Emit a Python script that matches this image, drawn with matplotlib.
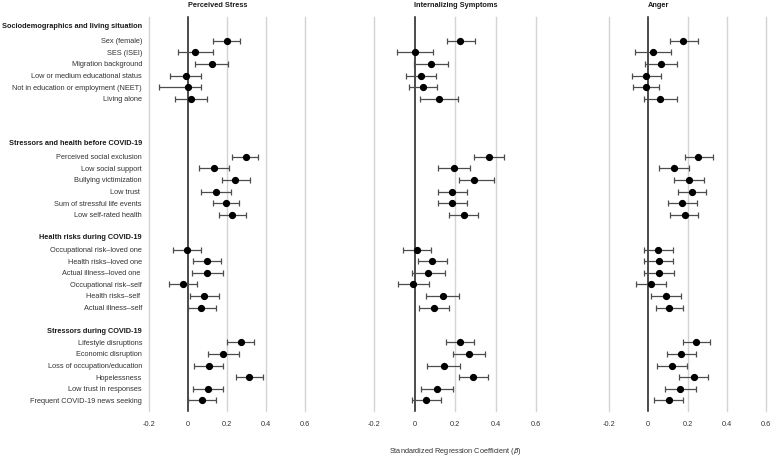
import numpy as np
import matplotlib
matplotlib.use("Agg")
import matplotlib.pyplot as plt
import matplotlib.transforms as mtransforms

plt.rcParams['font.family'] = ['Liberation Sans', 'DejaVu Sans']

# ---------------- data ----------------
group_titles = ["Sociodemographics and living situation",
                "Stressors and health before COVID-19",
                "Health risks during COVID-19",
                "Stressors during COVID-19"]

labels_g1 = ["Sex (female)", "SES (ISEI)", "Migration background",
             "Low or medium educational status",
             "Not in education or employment (NEET)", "Living alone"]
labels_g2 = ["Perceived social exclusion", "Low social support",
             "Bullying victimization", "Low trust ",
             "Sum of stressful life events", "Low self-rated health"]
labels_g3 = ["Occupational risk\u2013loved one", "Health risks\u2013loved one",
             "Actual illness\u2013loved one ", "Occupational risk\u2013self",
             "Health risks\u2013self ", "Actual illness\u2013self"]
labels_g4 = ["Lifestyle disruptions", "Economic disruption",
             "Loss of occupation/education", "Hopelessness",
             "Low trust in responses", "Frequent COVID-19 news seeking"]

panel_titles = ["Perceived Stress", "Internalizing Symptoms", "Anger"]
tick_values = [-0.2, 0, 0.2, 0.4, 0.6]
tick_labels = ["-0.2", "0", "0.2", "0.4", "0.6"]
x_label = "Standardized Regression Coefficient ($\\beta$)"

# Perceived Stress
stress_est = [0.198, 0.038, 0.122, -0.010, -0.002, 0.017,
              0.296, 0.134, 0.243, 0.143, 0.196, 0.226,
              -0.005, 0.099, 0.099, -0.026, 0.084, 0.069,
              0.270, 0.181, 0.106, 0.313, 0.104, 0.071]
stress_lo = [0.129, -0.051, 0.038, -0.091, -0.150, -0.066,
             0.228, 0.055, 0.172, 0.066, 0.129, 0.157,
             -0.078, 0.026, 0.019, -0.096, 0.008, 0.002,
             0.202, 0.102, 0.029, 0.245, 0.024, 0.002]
stress_hi = [0.268, 0.129, 0.207, 0.066, 0.069, 0.097,
             0.358, 0.210, 0.318, 0.219, 0.263, 0.296,
             0.066, 0.169, 0.178, 0.047, 0.157, 0.144,
             0.341, 0.259, 0.181, 0.383, 0.181, 0.144]

# Internalizing Symptoms
intern_est = [0.226, 0.003, 0.080, 0.033, 0.044, 0.121,
              0.369, 0.195, 0.292, 0.187, 0.185, 0.244,
              0.011, 0.087, 0.069, -0.005, 0.139, 0.097,
              0.225, 0.267, 0.144, 0.289, 0.110, 0.057]
intern_lo = [0.159, -0.085, -0.002, -0.043, -0.025, 0.028,
             0.293, 0.116, 0.218, 0.116, 0.115, 0.172,
             -0.059, 0.018, -0.011, -0.080, 0.059, 0.023,
             0.157, 0.189, 0.064, 0.221, 0.033, -0.011]
intern_hi = [0.298, 0.092, 0.164, 0.108, 0.110, 0.216,
             0.444, 0.274, 0.392, 0.259, 0.259, 0.316,
             0.082, 0.161, 0.149, 0.072, 0.220, 0.169,
             0.292, 0.346, 0.225, 0.364, 0.190, 0.133]

# Anger
anger_est = [0.179, 0.026, 0.065, -0.010, -0.014, 0.060,
             0.256, 0.132, 0.207, 0.224, 0.173, 0.185,
             0.051, 0.053, 0.055, 0.015, 0.089, 0.108,
             0.243, 0.168, 0.120, 0.231, 0.162, 0.104]
anger_lo = [0.111, -0.065, -0.017, -0.085, -0.080, -0.022,
            0.186, 0.056, 0.133, 0.150, 0.103, 0.111,
            -0.021, -0.021, -0.021, -0.060, 0.012, 0.038,
            0.176, 0.094, 0.044, 0.159, 0.087, 0.031]
anger_hi = [0.251, 0.116, 0.149, 0.063, 0.055, 0.144,
            0.328, 0.210, 0.282, 0.296, 0.246, 0.256,
            0.125, 0.125, 0.132, 0.091, 0.168, 0.179,
            0.315, 0.244, 0.197, 0.306, 0.241, 0.179]

# ---------------- layout ----------------
W, H = 771, 456
fig = plt.figure(figsize=(W / 100, H / 100), dpi=100)

group_starts = [0, 10, 18, 26]
header_pos = [-1.33, 8.79, 16.86, 24.97]
item_labels = [labels_g1, labels_g2, labels_g3, labels_g4]
y_pos = []
all_labels = []
for start, labs in zip(group_starts, item_labels):
    for i, lab in enumerate(labs):
        y_pos.append(start + i)
        all_labels.append(lab)
y_pos = np.array(y_pos, dtype=float)

ax_top_px, ax_bot_px = 18, 412
panels_px = [(149, 305), (374, 536), (609, 766)]
series = [(stress_est, stress_lo, stress_hi),
          (intern_est, intern_lo, intern_hi),
          (anger_est, anger_lo, anger_hi)]

ylim_top = (ax_top_px - 41.7) / 11.6
ylim_bot = (ax_bot_px - 41.7) / 11.6

axes = []
for (x0, x1), (est, lo, hi), title in zip(panels_px, series, panel_titles):
    ax = fig.add_axes([x0 / W, 1 - ax_bot_px / H, (x1 - x0) / W,
                       (ax_bot_px - ax_top_px) / H])
    ax.set_xlim(-0.2, 0.6)
    ax.set_ylim(ylim_bot, ylim_top)
    for s in ax.spines.values():
        s.set_visible(False)
    for v in tick_values:
        if v == 0:
            ax.axvline(v, color='#1a1a1a', lw=1.1, zorder=2, clip_on=False)
        else:
            ax.axvline(v, color='#d4d4d4', lw=1.0, zorder=1, clip_on=False)
    est = np.array(est)
    lo = np.array(lo)
    hi = np.array(hi)
    ax.errorbar(est, y_pos, xerr=[est - lo, hi - est], fmt='none',
                ecolor='#4d4d4d', elinewidth=0.9, capsize=2.0,
                capthick=0.9, zorder=3)
    ax.plot(est, y_pos, 'o', color='black', markersize=4.2, zorder=4)
    ax.set_yticks([])
    ax.set_xticks(tick_values)
    ax.set_xticklabels(tick_labels)
    ax.tick_params(axis='x', length=0, pad=6.5, labelsize=5.3,
                   labelcolor='#333333')
    ax.text(0, 1 - 5.5 / H, title,
            transform=mtransforms.blended_transform_factory(ax.transData,
                                                            fig.transFigure),
            ha='left', va='center', fontsize=5.3, fontweight='bold',
            color='#1a1a1a')
    axes.append(ax)

ax0 = axes[0]
lab_x = (142 - 149) / (305 - 149)
ytr = mtransforms.blended_transform_factory(ax0.transAxes, ax0.transData)
for y, lab in zip(y_pos, all_labels):
    ax0.text(lab_x, y, lab, transform=ytr, ha='right', va='center',
             fontsize=5.3, color='#333333', clip_on=False)
for y, lab in zip(header_pos, group_titles):
    ax0.text(lab_x, y, lab, transform=ytr, ha='right', va='center',
             fontsize=5.3, fontweight='bold', color='#1a1a1a', clip_on=False)

fig.text(455 / W, 1 - 452 / H, x_label, ha='center', va='center',
         fontsize=5.3, color='#333333')

fig.savefig("out.png", dpi=100)
